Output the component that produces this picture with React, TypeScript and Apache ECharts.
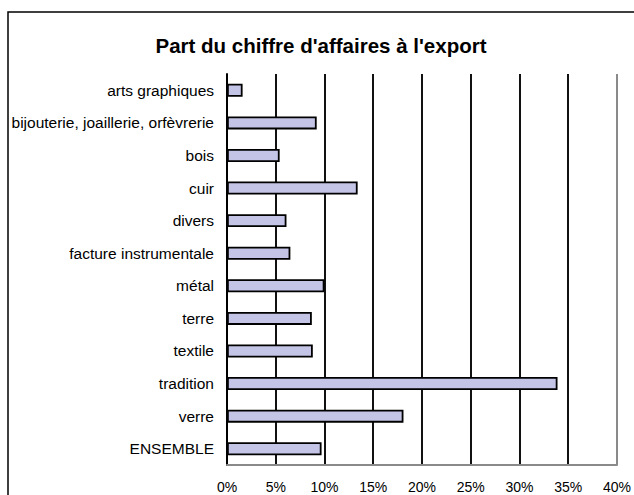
import React, { useEffect, useRef } from "react";
import * as echarts from "echarts";

const categories = [
  "arts graphiques",
  "bijouterie, joaillerie, orfèvrerie",
  "bois",
  "cuir",
  "divers",
  "facture instrumentale",
  "métal",
  "terre",
  "textile",
  "tradition",
  "verre",
  "ENSEMBLE",
];
const values = [1.6, 9.2, 5.4, 13.4, 6.1, 6.5, 10.0, 8.7, 8.8, 33.9, 18.1, 9.7];
const xTicks = [0, 5, 10, 15, 20, 25, 30, 35, 40];
const title = "Part du chiffre d'affaires à l'export";

export default function App() {
  const ref = useRef<HTMLDivElement>(null);
  useEffect(() => {
    if (!ref.current) return;
    const chart = echarts.init(ref.current, null, { renderer: "svg" });
    const font = "'Liberation Sans', Arial, sans-serif";
    const gridColors = xTicks.map((t, i) => (i === xTicks.length - 1 ? "#8a8a8a" : "#111"));
    chart.setOption({
      animation: false,
      backgroundColor: "#fff",
      title: {
        text: title,
        left: 316,
        textAlign: "center",
        top: 30,
        textStyle: { fontFamily: font, fontSize: 20.5, fontWeight: "bold", color: "#000" },
      },
      graphic: [
        {
          type: "polyline",
          shape: { points: [[8, 500], [8, 12], [640, 12]] },
          style: { stroke: "#000", lineWidth: 1.5, fill: "none" },
        },
      ],
      grid: { left: 227, right: 14, top: 74, bottom: 30, containLabel: false },
      xAxis: {
        type: "value",
        min: 0,
        max: 40,
        interval: 5,
        axisLabel: {
          formatter: "{value}%",
          fontFamily: font,
          fontSize: 14,
          color: "#000",
          margin: 15,
        },
        axisLine: { show: true, lineStyle: { color: "#8a8a8a", width: 2 } },
        axisTick: { show: false },
        splitLine: { show: true, lineStyle: { color: gridColors, width: 2 } },
      },
      yAxis: {
        type: "category",
        data: categories,
        inverse: true,
        axisLine: { show: true, lineStyle: { color: "#000", width: 2 } },
        axisTick: { show: false },
        axisLabel: { fontFamily: font, fontSize: 15.5, color: "#000", margin: 13 },
      },
      series: [
        {
          type: "bar",
          data: values,
          barWidth: 13,
          itemStyle: { color: "#c4c4e6", borderColor: "#000", borderWidth: 1.8 },
        },
      ],
    });
    return () => chart.dispose();
  }, []);
  return (
    <div
      ref={ref}
      style={{ position: "fixed", left: 0, top: 0, width: 634, height: 495 }}
    />
  );
}
